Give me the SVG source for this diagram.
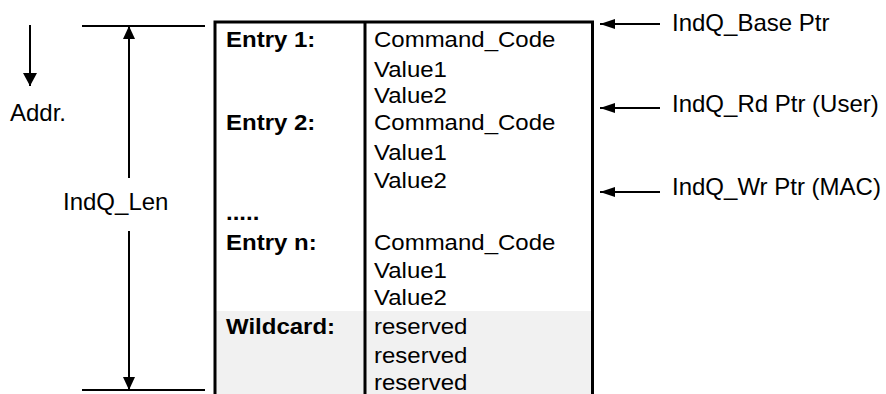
<svg xmlns="http://www.w3.org/2000/svg" width="886" height="394" viewBox="0 0 886 394">
  <style>
    .lbl { font-family: "Liberation Sans", Arial, sans-serif; font-size: 24px; fill: #000; }
    .cell { font-family: "Liberation Sans", Arial, sans-serif; font-size: 24px; fill: #000; }
    .bold { font-weight: bold; }
    .thin { stroke: #000; stroke-width: 2; fill: none; }
    .border { stroke: #000; stroke-width: 3; fill: none; }
  </style>
  <defs>
    <marker id="ptrHead" markerUnits="userSpaceOnUse" viewBox="0 0 15 10" refX="15" refY="5" markerWidth="15" markerHeight="10" orient="auto">
      <path d="M0,0 L15,5 L0,10 Z" fill="#000"/>
    </marker>
    <marker id="dimHead" markerUnits="userSpaceOnUse" viewBox="0 0 13 12" refX="13" refY="6" markerWidth="13" markerHeight="12" orient="auto">
      <path d="M0,0 L13,6 L0,12 Z" fill="#000"/>
    </marker>
    <marker id="addrHead" markerUnits="userSpaceOnUse" viewBox="0 0 13 14" refX="13" refY="7" markerWidth="13" markerHeight="14" orient="auto">
      <path d="M0,0 L13,7 L0,14 Z" fill="#000"/>
    </marker>
  </defs>

  <rect width="886" height="394" fill="#fff"/>

  <!-- queue table -->
  <g id="queue-table">
    <rect x="215" y="311" width="377" height="83" fill="#f1f1f1"/>
    <path class="border" d="M215,394 V22 H592.5 V394"/>
    <line class="border" x1="365" y1="22" x2="365" y2="394"/>
    <g class="cell bold">
      <text transform="translate(226,47) scale(1,0.92)">Entry 1:</text>
      <text transform="translate(226,130) scale(1,0.92)">Entry 2:</text>
      <text transform="translate(226,220) scale(1,0.92)">.....</text>
      <text transform="translate(226,250) scale(1,0.92)">Entry n:</text>
      <text transform="translate(226,334) scale(1,0.92)">Wildcard:</text>
    </g>
    <g class="cell">
      <text transform="translate(374,47) scale(1,0.92)">Command_Code</text>
      <text transform="translate(374,77) scale(1,0.92)">Value1</text>
      <text transform="translate(374,103) scale(1,0.92)">Value2</text>
      <text transform="translate(374,130) scale(1,0.92)">Command_Code</text>
      <text transform="translate(374,160) scale(1,0.92)">Value1</text>
      <text transform="translate(374,188) scale(1,0.92)">Value2</text>
      <text transform="translate(374,250) scale(1,0.92)">Command_Code</text>
      <text transform="translate(374,278) scale(1,0.92)">Value1</text>
      <text transform="translate(374,305) scale(1,0.92)">Value2</text>
      <text transform="translate(374,334) scale(1,0.92)">reserved</text>
      <text transform="translate(374,363) scale(1,0.92)">reserved</text>
      <text transform="translate(374,390) scale(1,0.92)">reserved</text>
    </g>
  </g>

  <g id="label-addr">
    <text class="lbl" x="10" y="121">Addr.</text>
  </g>
  <g id="label-len">
    <text class="lbl" x="63" y="210">IndQ_Len</text>
  </g>
  <g id="label-base-ptr">
    <text class="lbl" x="672" y="31">IndQ_Base Ptr</text>
  </g>
  <g id="label-rd-ptr">
    <text class="lbl" x="672" y="112">IndQ_Rd Ptr (User)</text>
  </g>
  <g id="label-wr-ptr">
    <text class="lbl" x="672" y="195">IndQ_Wr Ptr (MAC)</text>
  </g>

  <!-- connectors -->
  <g id="connectors">
    <line class="thin" x1="30" y1="25" x2="30" y2="86" marker-end="url(#addrHead)"/>
    <line class="thin" x1="82" y1="26" x2="205" y2="26"/>
    <line class="thin" x1="82" y1="390" x2="205" y2="390"/>
    <line class="thin" x1="129" y1="178" x2="129" y2="26" marker-end="url(#dimHead)"/>
    <line class="thin" x1="129" y1="231" x2="129" y2="390" marker-end="url(#dimHead)"/>
    <line class="thin" x1="660" y1="24" x2="600" y2="24" marker-end="url(#ptrHead)"/>
    <line class="thin" x1="660" y1="108" x2="600" y2="108" marker-end="url(#ptrHead)"/>
    <line class="thin" x1="660" y1="192" x2="600" y2="192" marker-end="url(#ptrHead)"/>
  </g>
</svg>
